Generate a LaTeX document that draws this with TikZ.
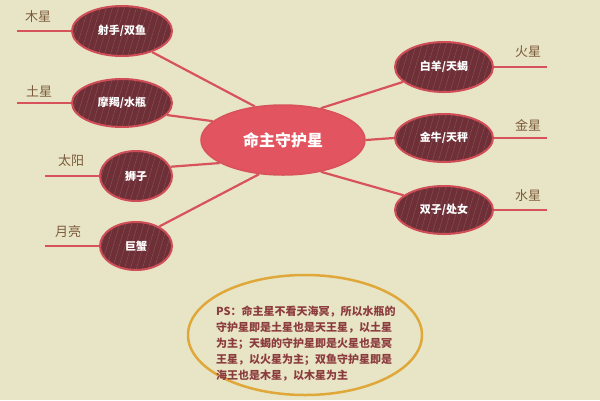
\documentclass[tikz,border=0pt]{standalone}
\usepackage{fontspec}
\setmainfont{Noto Sans CJK SC}
\usetikzlibrary{shapes.geometric}
\definecolor{bg}{HTML}{E7E5C5}
\definecolor{conn}{HTML}{D8525C}
\definecolor{ovfill}{HTML}{6E2F37}
\definecolor{ovline}{HTML}{CF4D57}
\definecolor{centerfill}{HTML}{E2545F}
\definecolor{lbl}{HTML}{7C5A3C}
\definecolor{ring}{HTML}{E0A83A}
\definecolor{note}{HTML}{8C3B3E}
\tikzset{
  oval/.style={ellipse, draw=ovline, line width=2pt, fill=ovfill, text=white,
    font=\bfseries\fontsize{11}{12}\selectfont, inner sep=0pt,
    path picture={\foreach \k in {-16,...,16}{\draw[white, opacity=0.15, line width=0.5pt]
      ([xshift=\k*6pt]path picture bounding box.south) -- ++(18pt,60pt);}}},
  conline/.style={draw=conn, line width=2.2pt},
  stem/.style={draw=conn, line width=2pt},
  planet/.style={text=lbl, font=\fontsize{13}{14}\selectfont, inner sep=0pt},
}
\begin{document}
\begin{tikzpicture}[x=1pt,y=-1pt]
\useasboundingbox (0,0) rectangle (600,400);
\fill[bg] (0,0) rectangle (600,400);
% center
\node[ellipse, draw=conn, line width=1.5pt, fill=centerfill, minimum width=164pt, minimum height=70pt,
  text=white, font=\bfseries\fontsize{16}{17}\selectfont] (c) at (283,140) {命主守护星};
% left ovals
\node[oval, minimum width=100pt, minimum height=50pt] (o1) at (122,31) {射手/双鱼};
\node[oval, minimum width=100pt, minimum height=48pt] (o2) at (122,103) {摩羯/水瓶};
\node[oval, minimum width=72pt, minimum height=50pt] (o3) at (136,176) {狮子};
\node[oval, minimum width=72pt, minimum height=48pt] (o4) at (136,246) {巨蟹};
% right ovals
\node[oval, minimum width=98pt, minimum height=50pt] (o5) at (444,67) {白羊/天蝎};
\node[oval, minimum width=98pt, minimum height=48pt] (o6) at (444,138) {金牛/天秤};
\node[oval, minimum width=98pt, minimum height=48pt] (o7) at (444,210) {双子/处女};
% connectors
\draw[conline] (o1.-35) -- (c.130);
\draw[conline] (o2.-15) -- (c.165);
\draw[conline] (o3.15) -- (c.200);
\draw[conline] (o4.40) -- (c.235);
\draw[conline] (o5.200) -- (c.40);
\draw[conline] (o6.180) -- (c.0);
\draw[conline] (o7.160) -- (c.-40);
% stems and labels
\coordinate (s1) at (17,31);
\coordinate (s2) at (17,103);
\coordinate (s3) at (45,176);
\coordinate (s4) at (45,246);
\coordinate (s5) at (547,67);
\coordinate (s6) at (547,138);
\coordinate (s7) at (547,210);
\draw[stem] (o1.west) -- (s1);
\draw[stem] (o2.west) -- (s2);
\draw[stem] (o3.west) -- (s3);
\draw[stem] (o4.west) -- (s4);
\draw[stem] (o5.east) -- (s5);
\draw[stem] (o6.east) -- (s6);
\draw[stem] (o7.east) -- (s7);
\node[planet] (l1) at (38,17) {木星};
\node[planet] (l2) at (39,91) {土星};
\node[planet] (l3) at (71,161) {太阳};
\node[planet] (l4) at (68,232) {月亮};
\node[planet] (l5) at (528,52) {火星};
\node[planet] (l6) at (528,125) {金星};
\node[planet] (l7) at (528,196) {水星};
% note ring
\draw[ring, line width=2.5pt] (305,335) ellipse [x radius=117, y radius=60];
\node[anchor=north west, text=note, inner sep=0pt, align=left,
  font=\bfseries\fontsize{11}{16}\selectfont] (n) at (216,306)
  {PS：命主星不看天海冥，所以水瓶的\\守护星即是土星也是天王星，以土星\\为主；天蝎的守护星即是火星也是冥\\王星，以火星为主；双鱼守护星即是\\海王也是木星，以木星为主};
\end{tikzpicture}
\end{document}
